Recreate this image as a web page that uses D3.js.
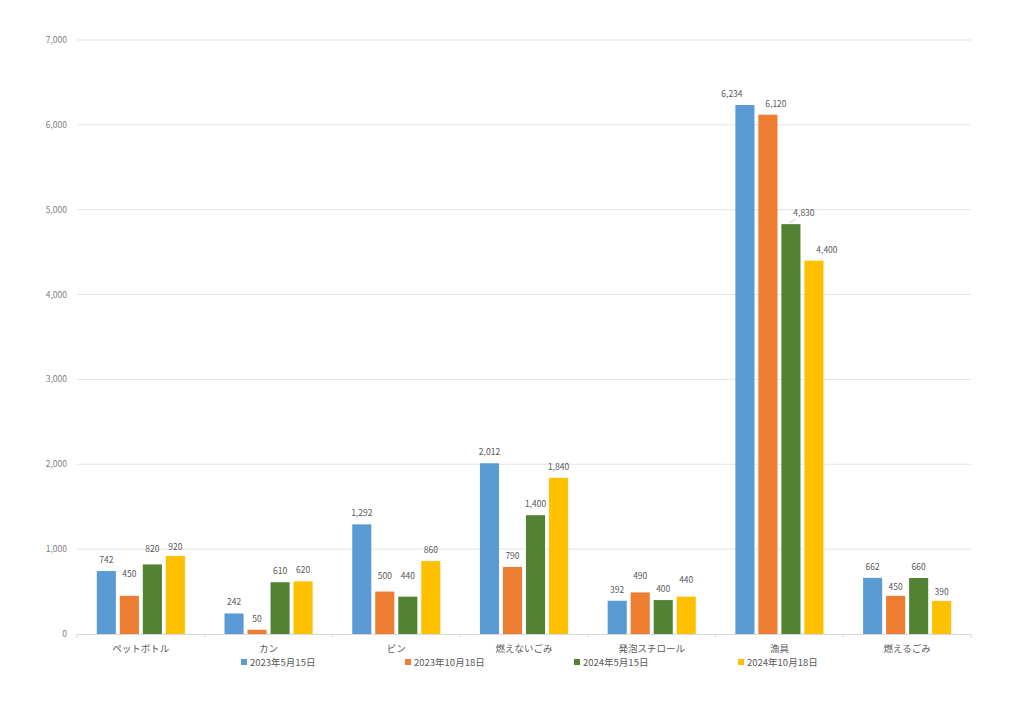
<!DOCTYPE html>
<html><head><meta charset="utf-8">
<script src="https://cdn.jsdelivr.net/npm/d3@7/dist/d3.min.js"></script>
<style>body{margin:0;background:#fff;}svg{display:block;}</style>
</head><body>
<svg id="c" width="1024" height="701"></svg>
<script>
const categories = ["ペットボトル","カン","ビン","燃えないごみ","発泡スチロール","漁具","燃えるごみ"];
const seriesNames = ["2023年5月15日","2023年10月18日","2024年5月15日","2024年10月18日"];
const s2023May = [742,242,1292,2012,392,6234,662];
const s2023Oct = [450,50,500,790,490,6120,450];
const s2024May = [820,610,440,1400,400,4830,660];
const s2024Oct = [920,620,860,1840,440,4400,390];
const yTicks = [0,1000,2000,3000,4000,5000,6000,7000];
const colors = ["#5B9BD5","#ED7D31","#548235","#FFC000"];
const series = [s2023May,s2023Oct,s2024May,s2024Oct];

const svg = d3.select("#c");
const font = "'Noto Sans CJK JP', 'Noto Sans', sans-serif";
const x = d3.scaleBand().domain(categories).range([77,971]).paddingInner(0.31).paddingOuter(0.155);
const xs = d3.scaleBand().domain(d3.range(4)).range([0, x.bandwidth()]).paddingInner(0.17);
const y = d3.scaleLinear().domain([0,7000]).range([634,40]);
const fmt = d3.format(",");

// grid
svg.append("g").selectAll("line").data(yTicks.slice(1)).join("line")
  .attr("x1",77).attr("x2",971).attr("y1",d=>y(d)).attr("y2",d=>y(d))
  .attr("stroke","#e3e3e3").attr("stroke-width",1);
// y labels
svg.append("g").selectAll("text").data(yTicks).join("text")
  .attr("x",67).attr("y",d=>y(d)+3).attr("text-anchor","end")
  .attr("font-family",font).attr("font-size",8.5).attr("fill","#808080")
  .text(d=>fmt(d));
// bars
categories.forEach((c,i)=>{
  series.forEach((s,k)=>{
    svg.append("rect").attr("x",x(c)+xs(k)).attr("y",y(s[i]))
      .attr("width",xs.bandwidth()).attr("height",y(0)-y(s[i]))
      .attr("fill",colors[k]);
  });
});
// x axis line
svg.append("line").attr("x1",77).attr("x2",971).attr("y1",634.5).attr("y2",634.5).attr("stroke","#d9d9d9");
const bounds = d3.range(8).map(i=>77+i*(894/7));
svg.append("g").selectAll("line").data(bounds).join("line")
  .attr("x1",d=>d).attr("x2",d=>d).attr("y1",634).attr("y2",638).attr("stroke","#d9d9d9");
// data labels (manual label nudges, as in the source chart)
const lblOffset = {"0-1":[0,-11],"0-2":[0,-4],"0-3":[0,2],"2-1":[0,-5],"2-2":[0,-10],
  "4-1":[0,-5],"4-3":[0,-6],"5-0":[-13,0],"5-1":[8,0],"5-2":[13,0],"5-3":[13,0],
  "6-1":[0,2],"6-3":[0,2]};
categories.forEach((c,i)=>{
  series.forEach((s,k)=>{
    const off = lblOffset[i+"-"+k] || [0,0];
    const cx = x(c)+xs(k)+xs.bandwidth()/2 + off[0];
    const ty = y(s[i]) - 8 + off[1];
    svg.append("text").attr("x",cx).attr("y",ty).attr("text-anchor","middle")
      .attr("font-family",font).attr("font-size",8.5).attr("fill","#595959")
      .text(fmt(s[i]));
    if (i===5 && k===2) {
      svg.append("line").attr("x1",cx-8).attr("y1",ty+3).attr("x2",cx-15).attr("y2",y(s[i])-1)
        .attr("stroke","#bfbfbf").attr("stroke-width",0.8);
    }
  });
});
// category labels
svg.append("g").selectAll("text").data(categories).join("text")
  .attr("x",d=>x(d)+x.bandwidth()/2).attr("y",652).attr("text-anchor","middle")
  .attr("font-family",font).attr("font-size",9.5).attr("fill","#595959").text(d=>d);
// legend
const legX = [241,405,574,738];
seriesNames.forEach((n,k)=>{
  svg.append("rect").attr("x",legX[k]).attr("y",659).attr("width",6).attr("height",6).attr("fill",colors[k]);
  svg.append("text").attr("x",legX[k]+9).attr("y",665.5).attr("font-family",font)
    .attr("font-size",9.5).attr("fill","#595959").text(n);
});
</script>
</body></html>
